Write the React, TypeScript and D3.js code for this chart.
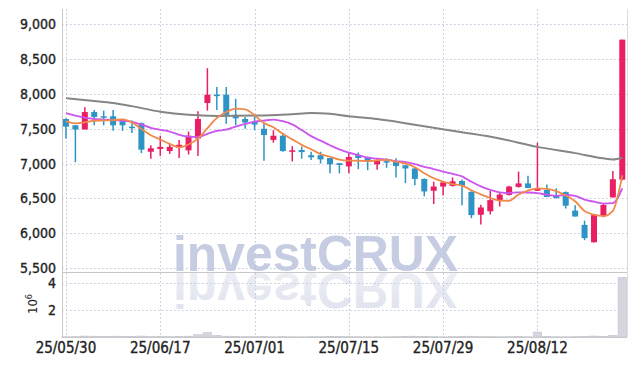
import React from "react";
import * as d3 from "d3";

const dates = [
  "25/05/30","25/06/02","25/06/04","25/06/05","25/06/09","25/06/10","25/06/11","25/06/12","25/06/13","25/06/16",
  "25/06/17","25/06/18","25/06/19","25/06/20","25/06/23","25/06/24","25/06/25","25/06/26","25/06/27","25/06/30",
  "25/07/01","25/07/02","25/07/03","25/07/04","25/07/07","25/07/08","25/07/09","25/07/10","25/07/11","25/07/14",
  "25/07/15","25/07/16","25/07/17","25/07/18","25/07/21","25/07/22","25/07/23","25/07/24","25/07/25","25/07/28",
  "25/07/29","25/07/30","25/07/31","25/08/01","25/08/04","25/08/05","25/08/06","25/08/07","25/08/08","25/08/11",
  "25/08/12","25/08/13","25/08/14","25/08/18","25/08/19","25/08/20","25/08/21","25/08/22","25/08/25","25/08/26",
];
const opens = [7640,7550,7490,7740,7680,7680,7610,7530,7580,7170,7210,7180,7230,7190,7360,7870,7990,7990,7700,7640,
  7600,7500,7340,7400,7175,7195,7120,7120,7080,7005,6960,7125,7095,6990,7035,7030,6975,6930,6780,6610,
  6670,6680,6750,6595,6265,6315,6475,6550,6665,6715,6610,6620,6535,6590,6325,6120,5870,6250,6515,6770];
const highs = [7650,7550,7810,7770,7760,7770,7630,7620,7590,7265,7400,7290,7340,7460,7750,8370,8100,8100,7930,7670,
  7680,7590,7480,7440,7250,7245,7170,7170,7080,7010,7150,7160,7100,7075,7075,7075,6980,6935,6785,6740,
  6750,6800,6770,6600,6410,6610,6580,6680,6885,6825,7300,6700,6645,6600,6400,6180,6265,6420,6895,8780];
const lows = [7360,7020,7490,7550,7550,7470,7470,7440,7150,7070,7110,7140,7080,7130,7110,7760,7770,7570,7550,7500,
  7480,7040,7300,7170,7030,7070,7050,7000,6860,6860,6860,6920,6905,6910,6940,6800,6720,6690,6530,6420,
  6540,6670,6400,6215,6125,6270,6385,6540,6655,6645,6605,6520,6500,6355,6240,5900,5865,6230,6510,6760];
const closes = [7530,7490,7740,7670,7670,7550,7550,7520,7200,7220,7240,7240,7270,7400,7640,7990,7970,7700,7650,7590,
  7560,7410,7400,7180,7190,7165,7090,7060,6990,6980,7095,7080,7030,7040,7025,6965,6930,6780,6600,6670,
  6730,6745,6680,6260,6370,6475,6555,6670,6715,6650,6635,6520,6505,6395,6240,5930,6260,6405,6775,8780];
// volume in millions
const volumes = [0.02,0.03,0.07,0.06,0.05,0.06,0.05,0.05,0.07,0.03,0.06,0.03,0.05,0.06,0.18,0.33,0.12,0.06,0.05,0.03,
  0.03,0.04,0.02,0.03,0.02,0.02,0.03,0.03,0.05,0.04,0.03,0.02,0.02,0.02,0.02,0.03,0.05,0.06,0.05,0.03,
  0.02,0.03,0.04,0.06,0.03,0.03,0.02,0.03,0.04,0.02,0.37,0.04,0.02,0.02,0.03,0.04,0.07,0.05,0.12,4.42];
const ma5 = [7605,7578,7592,7615,7620,7624,7636,7592,7498,7408,7346,7284,7234,7274,7358,7508,7654,7740,7790,7780,
  7694,7582,7522,7428,7348,7269,7205,7137,7099,7057,7043,7041,7035,7045,7054,7028,6998,6948,6860,6789,
  6742,6705,6685,6617,6557,6506,6468,6466,6557,6613,6645,6638,6605,6541,6459,6318,6266,6246,6322,6830];
const ma10 = [7725,7690,7660,7640,7632,7625,7615,7600,7560,7514,7485,7460,7413,7386,7383,7427,7469,7487,7532,7569,
  7601,7618,7631,7609,7564,7482,7394,7330,7264,7203,7156,7123,7086,7072,7056,7036,7020,6992,6953,6922,
  6885,6852,6817,6739,6673,6624,6587,6576,6587,6585,6576,6553,6536,6549,6536,6482,6452,6426,6432,6645];
const ma60Idx = [0,3,5,7,10,13,16,20,24,26,28,30,33,36,38,42,46,50,54,57,58,59];
const ma60Val = [7940,7900,7870,7825,7745,7700,7685,7690,7710,7725,7715,7680,7640,7580,7535,7450,7360,7240,7150,7075,7060,7085];

const yTicks = [5500,6000,6500,7000,7500,8000,8500,9000];
const volTicks = [2,4];
const xTickIdx = [0,10,20,30,40,50];

const UP = "#e91e63";
const DOWN = "#2e93c5";
const GRID = "#bfc5da";
const FONT = "'Liberation Sans Narrow','DejaVu Sans Condensed',sans-serif";

export default function App() {
  const W = 635, H = 366;
  const left = 62, right = 627, top = 9, mainBottom = 272, volBottom = 337;
  const x = d3.scaleLinear().domain([-0.42, 59.5]).range([left, right]);
  const y = d3.scaleLinear().domain([5443, 9220]).range([mainBottom, top]);
  const yv = d3.scaleLinear().domain([0, 4.82]).range([volBottom, mainBottom]);
  const step = x(1) - x(0);
  const bw = 6;

  const lineFor = (vals: number[]) =>
    d3.line<number>().x((_, i) => x(i)).y((d) => y(d)).curve(d3.curveMonotoneX)(vals) || "";
  const ma60Path =
    d3.line<number>().x((_, i) => x(ma60Idx[i])).y((d) => y(d)).curve(d3.curveMonotoneX)(ma60Val) || "";

  return (
    <svg width={W} height={H} style={{ position: "absolute", left: 0, top: 0, background: "#fff" }}>
      <defs>
        <clipPath id="plot">
          <rect x={left} y={top} width={right - left} height={mainBottom - top} />
        </clipPath>
        <linearGradient id="refl" x1="0" y1="0" x2="0" y2="1">
          <stop offset="0" stopColor="#dde1ed" />
          <stop offset="1" stopColor="#f0f1f6" />
        </linearGradient>
      </defs>

      {/* watermark */}
      <g fontFamily="'Liberation Sans',Arial,sans-serif" fontWeight="bold" fontSize={50}>
        <text x={173} y={271} fill="#c6cde2" textLength={285} lengthAdjust="spacingAndGlyphs">investCRUX</text>
        <g transform="translate(0,544) scale(1,-1)">
          <text x={173} y={271} fill="url(#refl)" textLength={285} lengthAdjust="spacingAndGlyphs">investCRUX</text>
        </g>
      </g>

      {/* grid */}
      <g stroke={GRID} strokeWidth={1} strokeDasharray="1.5 2.5">
        {yTicks.map((t) => (
          <line key={"gy" + t} x1={left} x2={right} y1={Math.round(y(t)) + 0.5} y2={Math.round(y(t)) + 0.5} />
        ))}
        {volTicks.map((t) => (
          <line key={"gv" + t} x1={left} x2={right} y1={Math.round(yv(t)) + 0.5} y2={Math.round(yv(t)) + 0.5} />
        ))}
        {xTickIdx.map((t) => (
          <line key={"gx" + t} x1={Math.round(x(t)) + 0.5} x2={Math.round(x(t)) + 0.5} y1={top} y2={volBottom} />
        ))}
      </g>

      {/* volume */}
      <g fill="#d4d5de" stroke="#c4c5d0" strokeWidth={0.6}>
        {volumes.map((v, i) => (
          <rect key={"v" + i} x={x(i) - step / 2 + 0.5} width={step - 1} y={yv(v)} height={Math.max(0.6, volBottom - yv(v))} />
        ))}
      </g>

      {/* candles */}
      <g clipPath="url(#plot)">
        {dates.map((d, i) => {
          const o = opens[i], c = closes[i], h = highs[i], l = lows[i];
          const col = c >= o ? UP : DOWN;
          const yt = y(Math.max(o, c));
          const yb = y(Math.min(o, c));
          const cx = x(i);
          return (
            <g key={d}>
              <line x1={cx} x2={cx} y1={y(h)} y2={y(l)} stroke={col} strokeWidth={1.5} />
              <rect x={cx - bw / 2} y={yt} width={bw} height={Math.max(1.5, yb - yt)} fill={col} />
            </g>
          );
        })}
        <path d={ma60Path} fill="none" stroke="#858585" strokeWidth={2} />
        <path d={lineFor(ma10)} fill="none" stroke="#cc55ee" strokeWidth={1.8} />
        <path d={lineFor(ma5)} fill="none" stroke="#f08a4b" strokeWidth={1.8} />
      </g>

      {/* frame */}
      <line x1={left + 0.5} x2={left + 0.5} y1={top} y2={volBottom} stroke="#c8c8c8" />
      <line x1={right + 0.5} x2={right + 0.5} y1={top} y2={volBottom} stroke="#dcdcdc" />
      <line x1={left} x2={right} y1={mainBottom + 0.5} y2={mainBottom + 0.5} stroke="#c8c8c8" />
      <line x1={left} x2={right} y1={volBottom + 0.5} y2={volBottom + 0.5} stroke="#c8c8c8" />

      {/* y labels */}
      <g fontFamily={FONT} fontSize={14} fill="#222" stroke="#222" strokeWidth={0.35} textAnchor="end">
        {yTicks.map((t) => (
          <text key={"yl" + t} x={56} y={y(t) + 5}>{d3.format(",")(t)}</text>
        ))}
        {volTicks.map((t) => (
          <text key={"vl" + t} x={56} y={yv(t) + 5}>{t}</text>
        ))}
      </g>
      <text transform="translate(37,304) rotate(-90)" fontFamily={FONT} fontSize={13} fill="#222" textAnchor="middle">
        10<tspan dy={-5} fontSize={9}>6</tspan>
      </text>

      {/* x labels */}
      <g fontFamily={FONT} fontSize={15} fill="#222" stroke="#222" strokeWidth={0.35} textAnchor="middle">
        {xTickIdx.map((t) => (
          <text key={"xl" + t} x={x(t)} y={353}>{dates[t]}</text>
        ))}
      </g>
    </svg>
  );
}
